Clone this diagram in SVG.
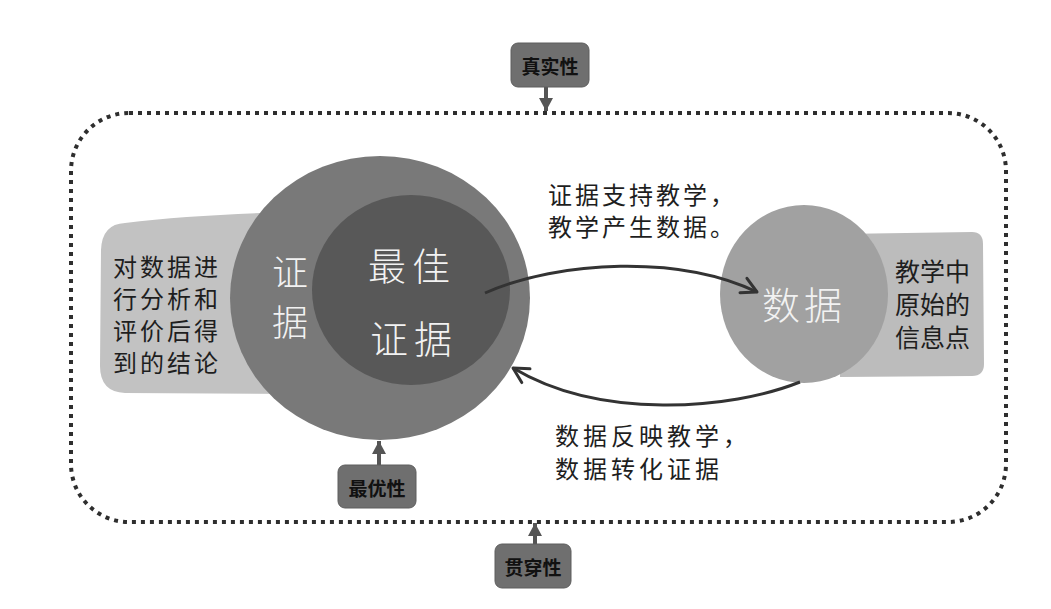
<svg xmlns="http://www.w3.org/2000/svg" width="1051" height="609" viewBox="0 0 1051 609">
<style>
.lbl{font-family:"Noto Sans CJK SC","Noto Sans",sans-serif;fill:#1e1e1e;dominant-baseline:central}
.wht{font-family:"Noto Sans CJK SC","Noto Sans",sans-serif;fill:#f2f2f2;font-weight:300;dominant-baseline:central}
.tag{fill:#6f6f6f;stroke:#5e5e5e;stroke-width:1}
.tagt{font-family:"Noto Sans CJK SC","Noto Sans",sans-serif;font-weight:bold;font-size:19px;fill:#111;text-anchor:middle;dominant-baseline:central}
.conn{fill:none;stroke:#333;stroke-width:3}
.tarr{fill:none;stroke:#555;stroke-width:4}
</style>
<defs>
<marker id="chev" markerUnits="userSpaceOnUse" viewBox="-18 -11 20 22" refX="0" refY="0" markerWidth="20" markerHeight="22" orient="auto" overflow="visible">
<path d="M-15,-8 L0,0 L-15,8" fill="none" stroke="#333" stroke-width="3" stroke-linecap="round" stroke-linejoin="round"/>
</marker>
<marker id="tri" markerUnits="userSpaceOnUse" viewBox="-14 -8 15 16" refX="0" refY="0" markerWidth="15" markerHeight="16" orient="auto" overflow="visible">
<path d="M-13,-7 L0,0 L-13,7 Z" fill="#555"/>
</marker>
</defs>
<rect width="1051" height="609" fill="#ffffff"/>

<g id="frame">
<rect x="71" y="113" width="935" height="409" rx="58" fill="none" stroke="#2e2e2e" stroke-width="4" stroke-dasharray="4 5"/>
</g>

<g id="evidence-note">
<path d="M125,223 Q200,214 300,212 L300,394 L125,393 Q100,392 100,366 L101,250 Q102,224 125,223 Z" fill="#c2c2c2"/>
<text class="lbl" font-size="24" letter-spacing="3"><tspan x="113" y="265">对数据进</tspan><tspan x="113" y="297">行分析和</tspan><tspan x="113" y="329">评价后得</tspan><tspan x="113" y="361">到的结论</tspan></text>
</g>

<g id="data-note">
<path d="M840,234 L972,232 Q983,232 983,244 L984,364 Q984,376 972,376 L840,377 Z" fill="#bcbcbc"/>
<text class="lbl" font-size="25"><tspan x="895" y="270">教学中</tspan><tspan x="895" y="303">原始的</tspan><tspan x="895" y="336">信息点</tspan></text>
</g>

<g id="evidence">
<ellipse cx="380" cy="298" rx="150" ry="142" fill="#797979"/>
<text class="wht" font-size="36"><tspan x="272" y="270">证</tspan><tspan x="272" y="320">据</tspan></text>
</g>

<g id="best-evidence">
<ellipse cx="411" cy="290" rx="99" ry="95" fill="#585858"/>
<text class="wht" font-size="38" letter-spacing="6"><tspan x="368" y="263">最佳</tspan><tspan x="370" y="336">证据</tspan></text>
</g>

<g id="data">
<ellipse cx="804" cy="294" rx="84" ry="89" fill="#a1a1a1"/>
<text class="wht" font-size="38" letter-spacing="4" x="762" y="302">数据</text>
</g>

<g id="connectors">
<path class="conn" d="M485,293 C560,260 680,255 757,292" marker-end="url(#chev)"/>
<path class="conn" d="M800,382 C730,410 600,420 513,368" marker-end="url(#chev)"/>
<path class="tarr" d="M546,87 L546,111" marker-end="url(#tri)"/>
<path class="tarr" d="M379,465 L379,441" marker-end="url(#tri)"/>
<path class="tarr" d="M535,544 L535,523" marker-end="url(#tri)"/>
</g>

<g id="label-top">
<text class="lbl" font-size="24" letter-spacing="3"><tspan x="548" y="193">证据支持教学，</tspan><tspan x="548" y="225">教学产生数据。</tspan></text>
</g>

<g id="label-bottom">
<text class="lbl" font-size="24" letter-spacing="4"><tspan x="555" y="434">数据反映教学，</tspan><tspan x="555" y="467">数据转化证据</tspan></text>
</g>

<g id="tag-authenticity">
<rect class="tag" x="511" y="43" width="78" height="44" rx="7"/>
<text class="tagt" x="550" y="65">真实性</text>
</g>

<g id="tag-optimality">
<rect class="tag" x="338" y="465" width="78" height="43" rx="7"/>
<text class="tagt" x="377" y="487">最优性</text>
</g>

<g id="tag-pervasiveness">
<rect class="tag" x="495" y="544" width="76" height="44" rx="7"/>
<text class="tagt" x="533" y="566">贯穿性</text>
</g>
</svg>
